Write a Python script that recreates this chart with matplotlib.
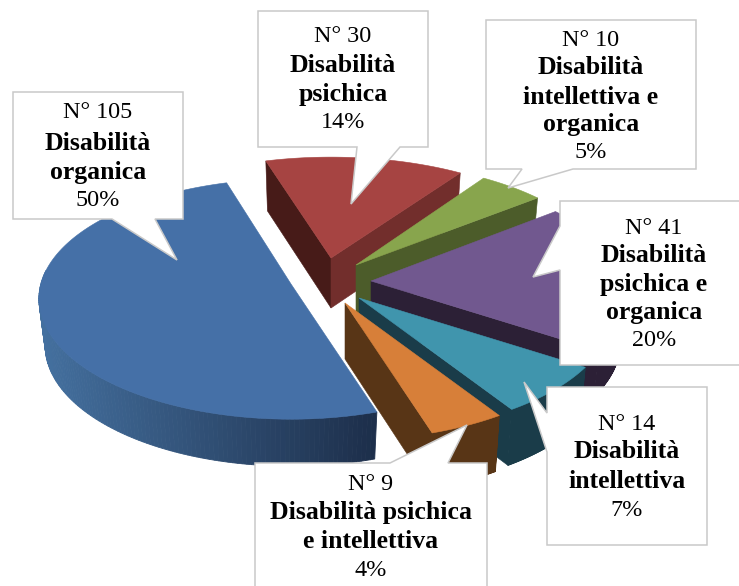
import numpy as np
import matplotlib
matplotlib.use("Agg")
import matplotlib.pyplot as plt
from matplotlib.patches import Polygon
from matplotlib.colors import to_rgb

# ---- data (clockwise from the top of the pie) ----
counts = [30, 10, 41, 14, 9, 105]
percents = ["14%", "5%", "20%", "7%", "4%", "50%"]
count_labels = ["N° 30", "N° 10", "N° 41", "N° 14", "N° 9", "N° 105"]
names = [
    ["Disabilità", "psichica"],
    ["Disabilità", "intellettiva e", "organica"],
    ["Disabilità", "psichica e", "organica"],
    ["Disabilità", "intellettiva"],
    ["Disabilità psichica", "e intellettiva"],
    ["Disabilità", "organica"],
]

# ---- styling ----
top_colors = ["#a64442", "#88a54d", "#71588f", "#4095ad", "#d77f39", "#4570a7"]
wall_hi = ["#471b18", "#4c5c2a", "#2c2036", "#1a3c49", "#583516", "#1d2f4b"]
wall_lo = ["#722e2c", "#4c5c2a", "#2c2036", "#1a3c49", "#583516", "#1d2f4b"]
rim_colors = ["#722e2c", "#4c5c2a", "#2c2036", "#1a3c49", "#583516", None]
apex = [(331, 258), (356, 265), (371, 281), (359, 298), (345, 303), (291, 284)]
radial = [0.945, 0.965, 1.0, 0.99, 1.0, 0.985]
radial_x = [1.055, 1.02, 1.0, 1.0, 1.0, 1.0]
depth = [50, 50, 46, 56, 56, 47]
A, B, K, SHRINK = 254.0, 122.0, 0.125, 0.975
START_ANGLE = 107.0

boxes = [
    dict(x0=258, x1=428, y0=11, y1=147, cx=343, ys=[37, 66, 94, 122],
         tail=("bottom", 400, (351, 204), 357)),
    dict(x0=486, x1=696, y0=20, y1=169, cx=591, ys=[40, 68, 97, 125, 153],
         tail=("bottom", 573, (508, 188), 522)),
    dict(x0=560, x1=745, y0=201, y1=365, cx=654, ys=[228, 256, 284, 312, 341],
         tail=("left", 226, (533, 277), 270)),
    dict(x0=547, x1=707, y0=387, y1=545, cx=627, ys=[424, 452, 481, 511],
         tail=("left", 413, (524, 382), 452)),
    dict(x0=255, x1=487, y0=463, y1=595, cx=371, ys=[484, 513, 542, 571],
         tail=("top", 390, (467, 425), 448)),
    dict(x0=13, x1=183, y0=92, y1=219, cx=98, ys=[113, 143, 172, 200],
         tail=("bottom", 155, (177, 260), 112)),
]

FONT = "Liberation Serif"
FS_NORMAL, FS_BOLD = 17.4, 18.5

fig = plt.figure(figsize=(7.39, 5.86), dpi=100)
ax = fig.add_axes([0, 0, 1, 1])
ax.set_xlim(0, 739)
ax.set_ylim(586, 0)
ax.axis("off")

spans = np.array(counts, float) / sum(counts) * 360.0
hi_angles = START_ANGLE - np.concatenate([[0], np.cumsum(spans)[:-1]])


def top_pt(i, t):
    r = radial[i] * (1 - K * np.sin(t))
    return apex[i][0] + A * radial_x[i] * r * np.cos(t), apex[i][1] - B * r * np.sin(t)


def low_pt(i, x, y):
    return apex[i][0] + SHRINK * (x - apex[i][0]), y + depth[i]


def lerp(c0, c1, f):
    c0, c1 = np.array(to_rgb(c0)), np.array(to_rgb(c1))
    return tuple(c0 + (c1 - c0) * f)


for i, (hi_deg, span) in enumerate(zip(hi_angles, spans)):
    ts = np.radians(np.linspace(hi_deg, hi_deg - span, 181))
    rim = [top_pt(i, t) for t in ts]

    # outer wall, front-facing part only
    for k in range(len(ts) - 1):
        if np.sin(ts[k]) > 0.1 and np.sin(ts[k + 1]) > 0.1:
            continue
        p0, p1 = rim[k], rim[k + 1]
        q0, q1 = low_pt(i, *p0), low_pt(i, *p1)
        if rim_colors[i] is None:
            f = np.clip((p0[0] - 40) / (375 - 40), 0, 1)
            col = lerp("#44709f", "#1d2f4b", f)
        else:
            col = rim_colors[i]
        ax.add_patch(Polygon([p0, p1, q1, q0], closed=True, fc=col, ec=col, lw=0.6, zorder=2 + i))

    # straight walls facing the viewer
    a_pt = apex[i]
    a_low = low_pt(i, *a_pt)
    t_hi, t_lo = ts[0], ts[-1]
    if np.sin(t_hi + np.pi / 2) < 0:
        p = top_pt(i, t_hi)
        ax.add_patch(Polygon([a_pt, p, low_pt(i, *p), a_low], closed=True,
                             fc=wall_hi[i], ec=wall_hi[i], lw=0.4, zorder=2 + i))
    if np.sin(t_lo - np.pi / 2) < 0:
        p = top_pt(i, t_lo)
        ax.add_patch(Polygon([a_pt, p, low_pt(i, *p), a_low], closed=True,
                             fc=wall_lo[i], ec=wall_lo[i], lw=0.4, zorder=2 + i))

    # top face
    ax.add_patch(Polygon([a_pt] + rim, closed=True, fc=top_colors[i], ec=top_colors[i],
                         lw=0.4, zorder=2.5 + i))

# callouts
for i, b in enumerate(boxes):
    x0, x1, y0, y1 = b["x0"], b["x1"], b["y0"], b["y1"]
    side, s0, tip, s1 = b["tail"]
    if side == "bottom":
        verts = [(x0, y0), (x1, y0), (x1, y1), (s0, y1), tip, (s1, y1), (x0, y1)]
    elif side == "left":
        verts = [(x0, y0), (x1, y0), (x1, y1), (x0, y1), (x0, s1), tip, (x0, s0)]
    else:
        verts = [(x0, y0), (s0, y0), tip, (s1, y0), (x1, y0), (x1, y1), (x0, y1)]
    ax.add_patch(Polygon(verts, closed=True, fc="white", ec="#c9c9c9", lw=1.1, zorder=20 + i))
    lines = [(count_labels[i], "normal")] + [(n, "bold") for n in names[i]] + [(percents[i], "normal")]
    for (txt, w), y in zip(lines, b["ys"]):
        ax.text(b["cx"], y, txt, ha="center", va="center", family=FONT,
                fontsize=FS_BOLD if w == "bold" else FS_NORMAL,
                fontweight=w, color="black", zorder=40)

fig.savefig("out.png", dpi=100, facecolor="white")
